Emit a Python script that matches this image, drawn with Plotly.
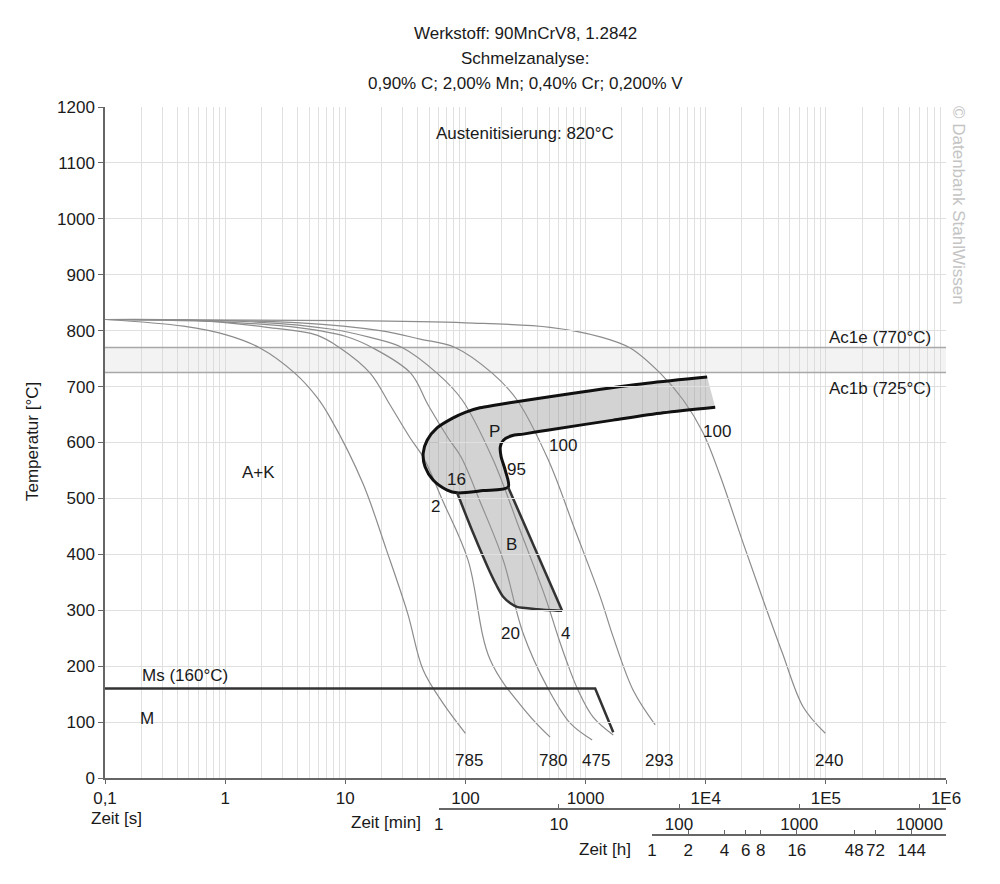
import math
import plotly.graph_objects as go

# ZTU-Schaubild 90MnCrV8 (kontinuierlich), Zeit in s, Temperatur in °C
zeit_bereich = [0.1, 1e6]
ac1e = 770
ac1b = 725
ms_t = [0.1, 1202, 1700]
ms_T = [160, 160, 82]

# Abkühlkurven
k1_t = [0.1, 0.45, 1.04, 1.95, 3.8, 5.8, 7.5, 14, 22, 33, 44.5, 65, 100]
k1_T = [820, 808, 792, 769, 724, 681, 644, 527, 408, 295, 193, 134, 80]
k2_t = [0.1, 0.62, 2.23, 5.8, 9.06, 16.1, 23.6, 34.7, 44.5, 65, 105, 161, 327, 507]
k2_T = [820, 818, 806, 792, 769, 724, 667, 608, 574, 495, 390, 211, 116, 73]
k3_t = [0.1, 1.1, 4.2, 10, 17, 35, 48.9, 71.8, 92, 132, 206, 302, 479, 745, 1135]
k3_T = [820, 815, 805, 790, 769, 724, 667, 608, 574, 495, 390, 259, 163, 98, 68]
k4_t = [0.1, 1.95, 7.5, 16.1, 29.7, 58, 94, 170, 285, 461, 592, 703, 867, 1156, 1700]
k4_T = [820, 815, 803, 788, 770, 724, 676, 569, 443, 324, 252, 206, 157, 109, 77]
k5_t = [0.1, 4.2, 19.5, 42, 82, 167, 269, 489, 819, 1324, 1700, 2490, 3800]
k5_T = [820, 814, 800, 785, 770, 724, 676, 569, 443, 324, 252, 157, 95]
k6_t = [0.1, 10, 100, 507, 1324, 2352, 4178, 6500, 9530, 13210, 20500, 30100, 43400, 64800, 98900]
k6_T = [820, 818, 814, 806, 789, 769, 724, 676, 617, 540, 420, 318, 224, 127, 80]
kurven = [(k1_t, k1_T), (k2_t, k2_T), (k3_t, k3_T), (k4_t, k4_T), (k5_t, k5_T), (k6_t, k6_T)]

# Perlit-Bereich
p_aussen_t = [10280, 3258, 901, 249, 180, 132, 99.6, 79, 58, 48, 44.5, 46.2, 53.8, 70.5, 85.3]
p_aussen_T = [717, 706, 690, 672, 667, 662, 654, 644, 626, 604, 581, 556, 533, 515, 510]
pb_t = [85.3, 140, 227]
pb_T = [510, 514, 520]
p_innen_t = [227, 214, 198, 195, 207, 243, 302, 479, 1698, 4426, 12000]
p_innen_T = [520, 551, 575, 592, 604, 612, 615, 622, 640, 653, 663]

# Bainit-Bereich
b_links_t = [85.3, 116, 161, 184, 206, 235, 269, 395, 638]
b_links_T = [510, 438, 367, 342, 324, 313, 306, 302, 299]
b_rechts_t = [638, 227]
b_rechts_T = [299, 520]

# Beschriftungen (Zeit, Temperatur, Text)
haerte = [(107, 32, "785"), (537, 32, "780"), (1225, 32, "475"), (4100, 32, "293"), (106700, 32, "240")]
anteile = [(56, 485, "2"), (84, 533, "16"), (264, 551, "95"), (651, 594, "100"), (12470, 619, "100"),
           (236, 259, "20"), (676, 259, "4")]
gefuege = [(1.88, 547, "A+K"), (173, 619, "P"), (240, 417, "B"), (0.224, 107, "M")]

x_ticks = [0.1, 1, 10, 100, 1000, 1e4, 1e5, 1e6]
x_text = ["0,1", "1", "10", "100", "1000", "1E4", "1E5", "1E6"]
min_ticks = [1, 10, 100, 1000, 10000]
h_ticks = [1, 2, 4, 6, 8, 16, 48, 72, 144]

# Seite hat 8px Rand (body margin), Pixelangaben beziehen sich auf das Bild
W, H = 1000, 884
ML, MR, MT, MB = 97, 62, 99, 38
pw = W - ML - MR
ph = H - MT - MB


def px_x(x):
    return (x - 8 - ML) / pw


def px_y(y):
    return (H - MB - (y - 8)) / ph


grau = "#666666"
schrift = 17
fig = go.Figure()

# Ac1-Band
fig.add_trace(go.Scatter(x=zeit_bereich, y=[ac1b, ac1b], mode="lines",
                         line=dict(color="#a8a8a8", width=1.5)))
fig.add_trace(go.Scatter(x=zeit_bereich, y=[ac1e, ac1e], mode="lines",
                         line=dict(color="#a8a8a8", width=1.5),
                         fill="tonexty", fillcolor="rgba(215,215,215,0.3)"))

for kt, kT in kurven:
    fig.add_trace(go.Scatter(x=kt, y=kT, mode="lines",
                             line=dict(color="#8c8c8c", width=1.2, shape="spline", smoothing=1.0)))

# Flächen
p_fl_t = p_aussen_t + pb_t[1:] + p_innen_t[1:]
p_fl_T = p_aussen_T + pb_T[1:] + p_innen_T[1:]
fig.add_trace(go.Scatter(x=p_fl_t, y=p_fl_T, mode="lines", line=dict(width=0, shape="spline", smoothing=0.8),
                         fill="toself", fillcolor="rgba(150,150,150,0.42)"))
b_fl_t = b_links_t + b_rechts_t[1:] + pb_t[::-1][1:]
b_fl_T = b_links_T + b_rechts_T[1:] + pb_T[::-1][1:]
fig.add_trace(go.Scatter(x=b_fl_t, y=b_fl_T, mode="lines", line=dict(width=0),
                         fill="toself", fillcolor="rgba(150,150,150,0.42)"))

# Umrisse
fig.add_trace(go.Scatter(x=p_fl_t, y=p_fl_T, mode="lines",
                         line=dict(color="#111111", width=3, shape="spline", smoothing=0.8)))
fig.add_trace(go.Scatter(x=b_links_t, y=b_links_T, mode="lines",
                         line=dict(color="#333333", width=2.5, shape="spline", smoothing=0.6)))
fig.add_trace(go.Scatter(x=b_rechts_t, y=b_rechts_T, mode="lines",
                         line=dict(color="#333333", width=2.5)))
fig.add_trace(go.Scatter(x=ms_t, y=ms_T, mode="lines", line=dict(color="#333333", width=2.5)))

# leere Spuren, damit die Achsen für min und h gezeichnet werden
fig.add_trace(go.Scatter(x=[], y=[], xaxis="x2", yaxis="y"))
fig.add_trace(go.Scatter(x=[], y=[], xaxis="x3", yaxis="y"))

anns = []
for t, T, txt in haerte + anteile + gefuege:
    anns.append(dict(x=math.log10(t), y=T, xref="x", yref="y", text=txt, showarrow=False,
                     font=dict(size=schrift)))
anns.append(dict(x=math.log10(0.46), y=184, xref="x", yref="y", text="Ms (160°C)", showarrow=False,
                 font=dict(size=schrift)))
anns.append(dict(x=math.log10(283800), y=787, xref="x", yref="y", text="Ac1e (770°C)", showarrow=False,
                 font=dict(size=schrift)))
anns.append(dict(x=math.log10(283800), y=697, xref="x", yref="y", text="Ac1b (725°C)", showarrow=False,
                 font=dict(size=schrift)))
anns.append(dict(x=math.log10(314), y=1152, xref="x", yref="y", text="Austenitisierung: 820°C",
                 showarrow=False, font=dict(size=schrift)))


def papier_text(x, y, txt, **kw):
    d = dict(x=px_x(x), y=px_y(y), xref="paper", yref="paper", text=txt, showarrow=False,
             xanchor="center", yanchor="middle", font=dict(size=schrift))
    d.update(kw)
    anns.append(d)


titel = ["Werkstoff: 90MnCrV8, 1.2842", "Schmelzanalyse:", "0,90% C; 2,00% Mn; 0,40% Cr; 0,200% V"]
for i, zeile in enumerate(titel):
    papier_text(525, 33 + 25 * i, zeile)

papier_text(32, 442, "Temperatur [°C]", textangle=-90)
papier_text(116, 818, "Zeit [s]")
papier_text(423, 822, "Zeit [min]", xanchor="right")
papier_text(633, 849, "Zeit [h]", xanchor="right")
papier_text(958, 205, "© Datenbank StahlWissen", textangle=90, font=dict(size=schrift, color="#c4c4c4"))

minor_ticks = [m * 10 ** e for e in range(-1, 6) for m in range(2, 10)]
y0 = px_y(778)

fig.update_layout(
    width=W, height=H,
    margin=dict(l=ML, r=MR, t=MT, b=MB),
    plot_bgcolor="rgba(0,0,0,0)", paper_bgcolor="white",
    showlegend=False, hovermode=False,
    font=dict(family="Liberation Sans, Arial", size=schrift, color="#1a1a1a"),
    annotations=anns,
    xaxis=dict(type="log", range=[-1, 6], tickvals=x_ticks, ticktext=x_text,
               showgrid=True, gridcolor="#e0e0e0", gridwidth=1,
               minor=dict(tickvals=minor_ticks, showgrid=True, gridcolor="#e0e0e0", ticks=""),
               showline=True, linecolor=grau, linewidth=1.5,
               ticks="outside", ticklen=4, tickcolor=grau, zeroline=False),
    yaxis=dict(range=[0, 1200], domain=[y0, 1], dtick=100, showgrid=True, gridcolor="#e0e0e0",
               showline=True, linecolor=grau, linewidth=1.5, ticks="outside", ticklen=5,
               tickcolor=grau, zeroline=False),
    xaxis2=dict(type="log", anchor="free", position=px_y(809), domain=[px_x(438.7), 1],
                range=[math.log10(60), 6], tickvals=[v * 60 for v in min_ticks],
                ticktext=[str(v) for v in min_ticks], ticks="inside", ticklen=4, tickcolor=grau,
                showline=True, linecolor=grau, linewidth=1.5, showgrid=False, zeroline=False),
    xaxis3=dict(type="log", anchor="free", position=px_y(835), domain=[px_x(652), 1],
                range=[math.log10(3600), 6], tickvals=[v * 3600 for v in h_ticks],
                ticktext=[str(v) for v in h_ticks], ticks="inside", ticklen=4, tickcolor=grau,
                showline=True, linecolor=grau, linewidth=1.5, showgrid=False, zeroline=False),
)

fig.write_html("out.html")
